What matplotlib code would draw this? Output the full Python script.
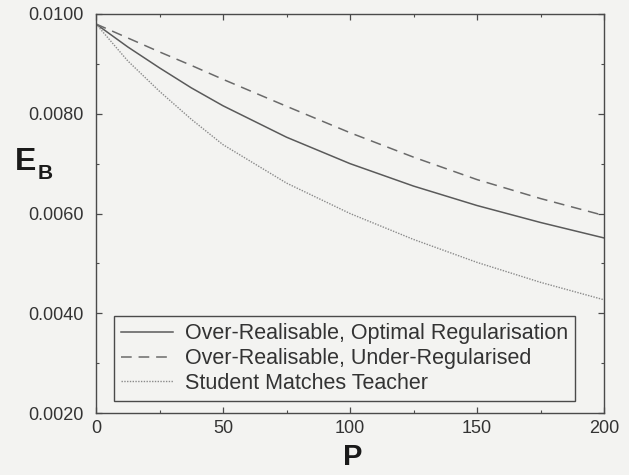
import matplotlib
matplotlib.use("Agg")
import matplotlib.pyplot as plt
from matplotlib.ticker import MultipleLocator, FormatStrFormatter

# Training-set size P and Bayes error E_B for the three scenarios
P = [0, 12.5, 25, 37.5, 50, 75, 100, 125, 150, 175, 200]
eb_optimal = [0.00980, 0.00934, 0.00892, 0.00852, 0.00816, 0.00753, 0.00700,
              0.00655, 0.00616, 0.00582, 0.00551]
eb_under = [0.00980, 0.00952, 0.00924, 0.00897, 0.00869, 0.00815, 0.00762,
            0.00713, 0.00668, 0.00630, 0.00596]
eb_matched = [0.00980, 0.00906, 0.00845, 0.00789, 0.00738, 0.00661, 0.00600,
              0.00548, 0.00502, 0.00462, 0.00427]

series_labels = [
    "Over-Realisable, Optimal Regularisation",
    "Over-Realisable, Under-Regularised",
    "Student Matches Teacher",
]

plt.rcParams["font.family"] = ["Liberation Sans", "DejaVu Sans"]

bg = "#f3f3f1"
ink = "#4a4a4a"
fig = plt.figure(figsize=(6.29, 4.75), dpi=100, facecolor=bg)
ax = fig.add_axes([96 / 629, 1 - 413 / 475, (604 - 96) / 629, (413 - 14) / 475])
ax.set_facecolor(bg)

ax.plot(P, eb_optimal, color="#5a5a5a", lw=1.1, ls="-", label=series_labels[0])
ax.plot(P, eb_under, color="#6a6a6a", lw=1.1, ls=(0, (7, 4.5)), label=series_labels[1])
ax.plot(P, eb_matched, color="#8a8a8a", lw=1.0, ls=(0, (1, 1)), label=series_labels[2])

ax.set_xlim(0, 200)
ax.set_ylim(0.002, 0.010)
ax.xaxis.set_major_locator(MultipleLocator(50))
ax.xaxis.set_minor_locator(MultipleLocator(25))
ax.yaxis.set_major_locator(MultipleLocator(0.002))
ax.yaxis.set_minor_locator(MultipleLocator(0.001))
ax.yaxis.set_major_formatter(FormatStrFormatter("%.4f"))

for s in ax.spines.values():
    s.set_color(ink)
    s.set_linewidth(1.0)
ax.tick_params(which="both", direction="in", top=True, right=True, colors=ink,
               labelcolor="#333333", labelsize=13)
ax.tick_params(which="major", length=4, width=0.9)
ax.tick_params(which="minor", length=2.5, width=0.8)
ax.tick_params(axis="y", pad=9)
ax.tick_params(axis="x", pad=5)

leg = ax.legend(loc="lower left", bbox_to_anchor=(0.0354, 0.030), frameon=True,
                fancybox=False, edgecolor=ink, facecolor=bg, framealpha=1,
                fontsize=15.5, handlelength=2.4, handletextpad=0.56,
                labelspacing=0.18, borderpad=0.33, borderaxespad=0)
leg.get_frame().set_linewidth(1.0)
for t in leg.get_texts():
    t.set_color("#333333")

# Axis titles
fig.text(353 / 629, 1 - 457 / 475, "P", ha="center", va="center",
         fontsize=21, fontweight="bold", color="#1a1a1a")
fig.text(15 / 629, 1 - 162 / 475, "E", ha="left", va="center",
         fontsize=23, fontweight="bold", color="#1a1a1a")
fig.text(38 / 629, 1 - 173 / 475, "B", ha="left", va="center",
         fontsize=15, fontweight="bold", color="#1a1a1a")

fig.savefig("out.png", dpi=100, facecolor=bg)
